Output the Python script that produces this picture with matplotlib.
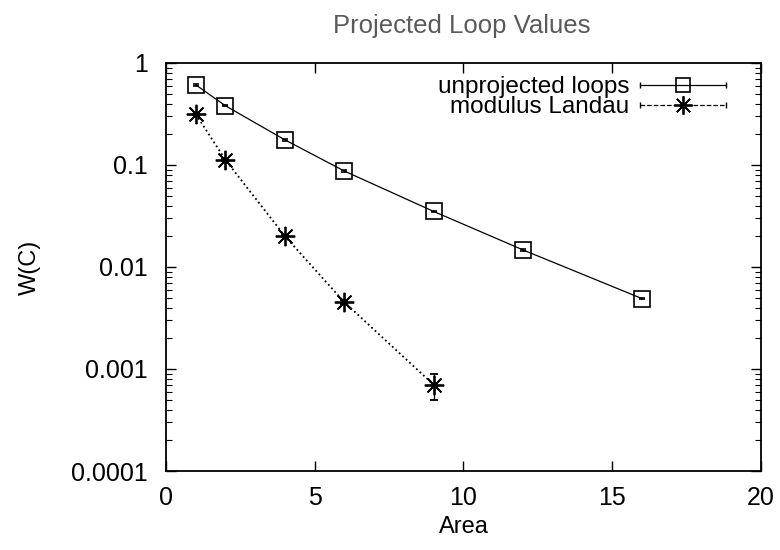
import numpy as np
import matplotlib as mpl
mpl.use('Agg')
import matplotlib.pyplot as plt
from matplotlib.lines import Line2D
from matplotlib.legend_handler import HandlerBase
from matplotlib.ticker import LogLocator, FixedLocator, NullFormatter

plt.rcParams['font.family'] = ['Liberation Sans', 'DejaVu Sans']

# data
area_unproj = [1, 2, 4, 6, 9, 12, 16]
w_unproj = [0.61, 0.38, 0.176, 0.087, 0.035, 0.0147, 0.0049]
err_unproj = [0.01, 0.006, 0.003, 0.0015, 0.0006, 0.0003, 0.0001]

area_landau = [1, 2, 4, 6, 9]
w_landau = [0.315, 0.112, 0.020, 0.0045, 0.00070]
err_landau_lo = [0.004, 0.002, 0.0005, 0.0002, 0.00020]
err_landau_hi = [0.004, 0.002, 0.0005, 0.0002, 0.00019]

x_ticks = [0, 5, 10, 15, 20]
y_ticks = [0.0001, 0.001, 0.01, 0.1, 1]
y_ticklabels = ['0.0001', '0.001', '0.01', '0.1', '1']

fontsize = 18


class CapLineHandler(HandlerBase):
    # gnuplot-like key sample: line with end caps and a marker in the middle
    def create_artists(self, legend, orig, xdescent, ydescent, width, height, fontsize, trans):
        y = height / 2 - ydescent
        x0, x1 = -xdescent, width - xdescent
        line = Line2D([x0, x1], [y, y], color='black', lw=orig.get_linewidth(), ls=orig.get_linestyle())
        caps = Line2D([x0, x1], [y, y], ls='none', marker='|', markersize=5, color='black', markeredgewidth=1)
        mark = Line2D([(x0 + x1) / 2], [y], ls='none', marker=orig.get_marker(),
                      markersize=orig.get_markersize() * 0.95, markerfacecolor=orig.get_markerfacecolor(),
                      markeredgecolor='black', markeredgewidth=orig.get_markeredgewidth())
        for a in (line, caps, mark):
            a.set_transform(trans)
        return [line, caps, mark]


fig = plt.figure(figsize=(7.8, 5.5), dpi=100)
ax = fig.add_axes([0.2128, 0.1436, 0.7628, 0.742])

ax.errorbar(area_unproj, w_unproj, yerr=err_unproj, color='black', lw=0.9,
            marker='s', markersize=11, markerfacecolor='none', markeredgewidth=1.2,
            capsize=2.5, elinewidth=0.9)
ax.errorbar(area_landau, w_landau, yerr=[err_landau_lo, err_landau_hi], color='black',
            lw=1.3, ls=(0, (1, 1.6)), marker=(8, 2, 0), markersize=14, markeredgewidth=1.3,
            capsize=3, elinewidth=0.9)

h1 = Line2D([], [], color='black', lw=0.9, marker='s', markersize=11,
            markerfacecolor='none', markeredgewidth=1.2)
h2 = Line2D([], [], color='black', lw=0.9, ls=(0, (2, 1.5)), marker=(8, 2, 0),
            markersize=14, markeredgewidth=1.3)

ax.set_yscale('log')
ax.set_xlim(0, 20)
ax.set_ylim(1e-4, 1)
ax.xaxis.set_major_locator(FixedLocator(x_ticks))
ax.yaxis.set_major_locator(FixedLocator(y_ticks))
ax.set_yticklabels(y_ticklabels)
ax.yaxis.set_minor_locator(LogLocator(base=10, subs=np.arange(2, 10)))
ax.yaxis.set_minor_formatter(NullFormatter())

ax.tick_params(axis='both', which='both', direction='in', top=True, right=True,
               labelsize=fontsize)
ax.tick_params(axis='y', which='both', pad=13)
ax.tick_params(axis='x', which='both', pad=11)
ax.tick_params(axis='both', which='major', length=7, width=1)
ax.tick_params(axis='y', which='minor', length=4, width=0.8)
for s in ax.spines.values():
    s.set_linewidth(1.3)

ax.set_xlabel('Area', fontsize=17, labelpad=4)
ax.set_ylabel('W(C)', fontsize=17, labelpad=22)
fig.text(0.592, 0.953, 'Projected Loop Values', ha='center', va='center',
         fontsize=18.5, color='#5a5a5a')

leg = ax.legend([h1, h2], ['unprojected loops', 'modulus Landau'],
                handler_map={Line2D: CapLineHandler()},
                loc='upper right', frameon=False, markerfirst=False, fontsize=17.5,
                handlelength=3.5, handletextpad=0.45, labelspacing=-0.08,
                borderaxespad=0.2, bbox_to_anchor=(0.965, 1.003))

fig.savefig('out.png', dpi=100)
plt.close()
